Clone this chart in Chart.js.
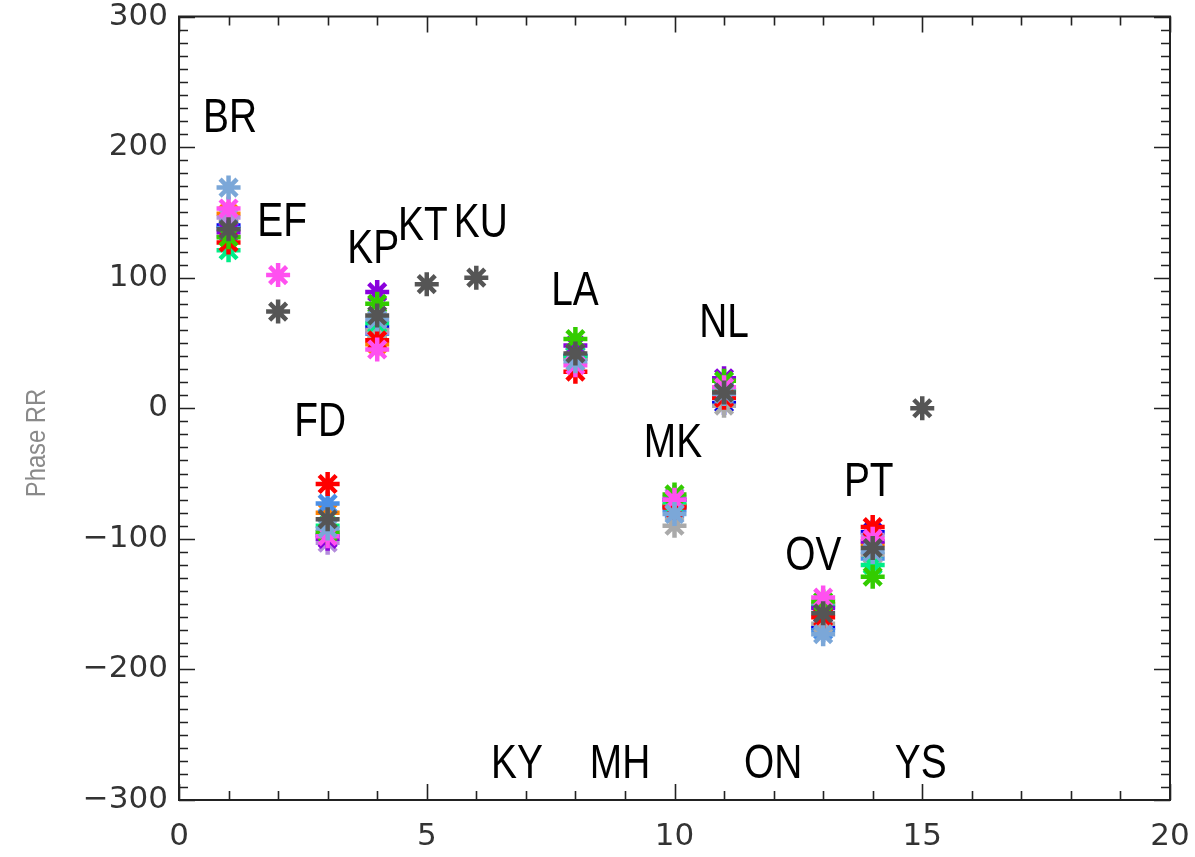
<!DOCTYPE html>
<html>
<head>
<meta charset="utf-8">
<script src="https://cdn.jsdelivr.net/npm/chart.js@4.4.1/dist/chart.umd.min.js"></script>
<style>
  html, body { margin: 0; padding: 0; background: #ffffff; }
  #wrap { width: 1195px; height: 857px; }
</style>
</head>
<body>
<div id="wrap"><canvas id="c" width="1195" height="857"></canvas></div>
<script>
// Station positions along the x axis (1..15)
const stations = ['BR','EF','FD','KP','KT','KU','KY','LA','MH','MK','NL','ON','OV','PT','YS'];
const stationX = [1,2,3,4,5,6,7,8,9,10,11,12,13,14,15];
// Where each station name is written (data units)
const labelX = [1.03, 2.08, 2.85, 3.92, 4.92, 6.09, 6.82, 7.99, 8.9, 9.97, 11.0, 11.99, 12.8, 13.92, 14.97];
const labelY = [222, 142, -11, 121, 139, 141, -273, 89, -273, -27, 65, -273, -114, -57, -273];

// Phase values per run, one entry per station (null = no estimate)
const steelBlue   = [169, null, -92, 68, null, null, null, 36, null, -81, 11, null, -173, -110, null];
const magenta     = [153, 102, -98, 45, null, null, null, 33, null, -70, 16, null, -145, -100, null];
const orange      = [149, null, -80, 49, null, null, null, 38, null, -74, 14, null, -150, -104, null];
const lavender    = [146, null, -103, 58, null, null, null, 38, null, -68, 15, null, -150, -97, null];
const blue        = [140, null, -97, 62, null, null, null, 40, null, -75, 4, null, -168, -95, null];
const red         = [127, null, -58, 52, null, null, null, 28, null, -76, 8, null, -160, -91, null];
const springGreen = [121, null, -90, 65, null, null, null, 40, null, -72, 14, null, -152, -120, null];
const green       = [131, null, -95, 80, null, null, null, 53, null, -66, 21, null, -148, -129, null];
const violet      = [135, null, -100, 89, null, null, null, 48, null, -70, 23, null, -153, -102, null];
const lightGray   = [132, null, -95, 60, null, null, null, 38, null, -90, 2, null, -165, -112, null];
const skyBlue     = [138, null, -73, 57, null, null, null, 40, null, -78, 10, null, -170, -115, null];
const darkGray    = [137, 74, -85, 71, 95, 100, null, 42, null, null, 12, null, -157, -107, 0];

const runs = [
  { v: darkGray,    c: '#555555' },
  { v: steelBlue,   c: '#7ba7d8' },
  { v: magenta,     c: '#ff50f0' },
  { v: green,       c: '#33cc00' },
  { v: red,         c: '#ff0000' },
  { v: violet,      c: '#8a00dd' },
  { v: springGreen, c: '#00ee88' },
  { v: lightGray,   c: '#aaaaaa' },
  { v: lavender,    c: '#b48cdc' },
  { v: skyBlue,     c: '#4a8fe6' },
  { v: orange,      c: '#ff8000' },
  { v: blue,        c: '#0000ee' }
];

const yTicks = [-300, -200, -100, 0, 100, 200, 300];
const xTicks = [0, 5, 10, 15, 20];

const datasets = runs.map((r, i) => ({
  data: stationX.map((x, k) => r.v[k] === null ? null : { x: x, y: r.v[k] }).filter(p => p !== null),
  pointStyle: 'star',
  pointRadius: 12,
  pointBorderWidth: 4.5,
  borderColor: r.c,
  backgroundColor: r.c,
  showLine: false,
  order: i
}));

const TICK_FONT = '31px "DejaVu Sans", sans-serif';
const fmt = v => (v < 0 ? '\u2212' + Math.abs(v) : String(v));

// Frame with inward minor/major ticks on all four sides, tick labels, station names, y title
const framePlugin = {
  id: 'frame',
  afterDatasetsDraw(chart) {
    const { ctx, chartArea: a, scales } = chart;
    const xs = scales.x, ys = scales.y;
    ctx.save();
    ctx.strokeStyle = '#222';
    ctx.lineWidth = 2;
    ctx.strokeRect(a.left, a.top, a.right - a.left, a.bottom - a.top);
    ctx.lineWidth = 1.6;
    ctx.beginPath();
    for (let v = -300; v <= 300; v += 10) {
      const y = Math.round(ys.getPixelForValue(v)) + 0.5;
      const len = (v % 100 === 0) ? 16 : 9;
      ctx.moveTo(a.left, y); ctx.lineTo(a.left + len, y);
      ctx.moveTo(a.right, y); ctx.lineTo(a.right - len, y);
    }
    for (let v = 0; v <= 20; v += 1) {
      const x = Math.round(xs.getPixelForValue(v)) + 0.5;
      const len = (v % 5 === 0) ? 16 : 9;
      ctx.moveTo(x, a.bottom); ctx.lineTo(x, a.bottom - len);
      ctx.moveTo(x, a.top); ctx.lineTo(x, a.top + len);
    }
    ctx.stroke();

    // tick labels
    ctx.fillStyle = '#333';
    ctx.font = TICK_FONT;
    ctx.textBaseline = 'middle';
    ctx.textAlign = 'right';
    yTicks.forEach(v => ctx.fillText(fmt(v), a.left - 11, ys.getPixelForValue(v)));
    ctx.textAlign = 'center';
    xTicks.forEach(v => ctx.fillText(fmt(v), xs.getPixelForValue(v), a.bottom + 37));

    // station names (condensed sans)
    ctx.fillStyle = '#000';
    ctx.font = '48px "Liberation Sans", Arial, sans-serif';
    ctx.textAlign = 'center';
    ctx.textBaseline = 'middle';
    stations.forEach((s, i) => {
      ctx.save();
      ctx.translate(xs.getPixelForValue(labelX[i]), ys.getPixelForValue(labelY[i]));
      ctx.scale(0.81, 1);
      ctx.fillText(s, 0, 0);
      ctx.restore();
    });

    // y axis title
    ctx.save();
    ctx.translate(37, 443);
    ctx.rotate(-Math.PI / 2);
    ctx.scale(0.85, 1);
    ctx.fillStyle = '#8a8a8a';
    ctx.textAlign = 'center';
    ctx.textBaseline = 'middle';
    ctx.font = '28px "Liberation Sans", Arial, sans-serif';
    ctx.fillText('Phase RR', 0, 0);
    ctx.restore();
    ctx.restore();
  }
};

new Chart(document.getElementById('c'), {
  type: 'scatter',
  data: { datasets },
  plugins: [framePlugin],
  options: {
    responsive: false,
    animation: false,
    layout: { padding: { top: 14, right: 25, left: 0, bottom: 0 } },
    plugins: { legend: { display: false }, tooltip: { enabled: false } },
    scales: {
      x: {
        type: 'linear', min: 0, max: 20,
        afterFit: s => { s.height = 57; },
        grid: { display: false, drawTicks: false },
        border: { display: false },
        ticks: { display: false }
      },
      y: {
        type: 'linear', min: -300, max: 300,
        afterFit: s => { s.width = 179; },
        grid: { display: false, drawTicks: false },
        border: { display: false },
        ticks: { display: false }
      }
    }
  }
});
</script>
</body>
</html>
